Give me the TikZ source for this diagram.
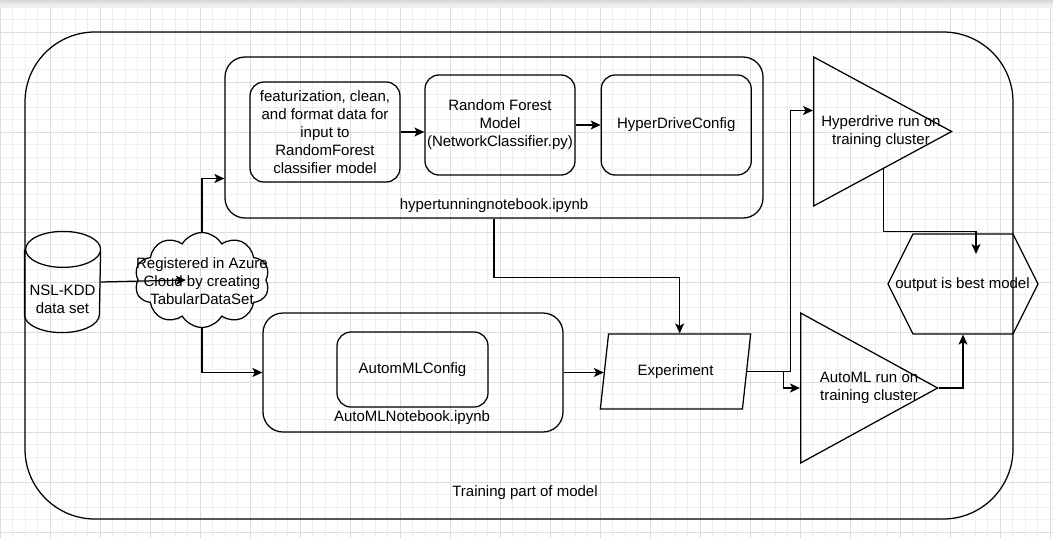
\documentclass[tikz,border=0pt]{standalone}
\usepackage{fontspec}
\setmainfont{Liberation Sans}
\usetikzlibrary{arrows.meta,positioning,shapes.geometric,shapes.symbols}

\definecolor{gridmajor}{HTML}{DDDDDD}
\definecolor{gridminor}{HTML}{EFEFEF}

\tikzset{
  every node/.style={font=\fontsize{15}{18}\selectfont},
  frame/.style={draw, rounded corners=20pt},
  block/.style={draw, rounded corners=14pt, align=center, inner sep=2pt,
    minimum width=150pt, minimum height=100pt},
  caption/.style={align=center, inner sep=0pt},
  azure/.style={draw, cloud, cloud puffs=10, cloud puff arc=120, aspect=1.4,
    minimum width=135pt, minimum height=95pt, inner sep=0pt},
  run/.style={draw, isosceles triangle, isosceles triangle stretches,
    inner sep=0pt, anchor=lower side},
  experiment/.style={draw, trapezium, trapezium stretches=true,
    trapezium left angle=71.6, trapezium right angle=108.4,
    minimum width=151pt, minimum height=75pt, inner sep=0pt},
  result/.style={draw, signal, signal to=east and west, signal pointer angle=126.87,
    minimum width=150pt, minimum height=100pt, inner sep=0pt},
}

\begin{document}
\begin{tikzpicture}[x=1pt,y=-1pt,>={Stealth[length=10pt,width=9pt,inset=2.5pt]},line width=1.25pt]
  \useasboundingbox (0,0) rectangle (1053,549);

  % grid of the canvas
  \shade[top color=gray!30, bottom color=gray!6] (0,0) rectangle (1053,7);
  \foreach \x in {0,12.5,...,1053}
    \draw[gridminor, line width=0.8pt] (\x,7) -- (\x,538);
  \foreach \y in {7,19.5,...,538}
    \draw[gridminor, line width=0.8pt] (0,\y) -- (1053,\y);
  \foreach \x in {0,50,...,1050}
    \draw[gridmajor, line width=0.8pt] (\x,7) -- (\x,538);
  \foreach \y in {32,82,...,532}
    \draw[gridmajor, line width=0.8pt] (0,\y) -- (1053,\y);

  \node[frame, rounded corners=70pt, minimum width=988pt, minimum height=487pt] (train) at (519,275.5) {};
  \node[caption] (trainlbl) at (525,493) {Training part of model};

  % data set drum
  \node[minimum width=75pt, minimum height=100pt, inner sep=0pt] (nsl) at (62.5,282) {};
  \draw ([yshift=-18pt]nsl.north west) -- ([yshift=18pt]nsl.south west)
        arc[start angle=180, end angle=360, x radius=37.5pt, y radius=18pt]
        -- ([yshift=-18pt]nsl.north east)
        arc[start angle=0, end angle=360, x radius=37.5pt, y radius=18pt];
  \node[caption] (nsltxt) at (62.5,299) {NSL-KDD\\data set};

  \node[azure] (azure) at (202,280)  {};
  \node[caption] (azuretxt) at (202,281) {Registered in Azure\\Cloud by creating\\TabularDataSet};

  \node[frame, minimum width=538pt, minimum height=161pt] (hyper) at (494,137.5) {};
  \node[caption] (hyperlbl) at (494,206) {hypertunningnotebook.ipynb};
  \node[block] (feat) at (325,132) {featurization, clean,\\and format data for\\input to\\RandomForest\\classifier model};
  \node[block] (rf)   at (500,125) {Random Forest\\Model\\(NetworkClassifier.py)};
  \node[block] (hdc)  [right=25pt of rf] {HyperDriveConfig};

  \node[frame, minimum width=300pt, minimum height=119pt] (automl) at (413,372.5) {};
  \node[caption] (automllbl) at (412,418) {AutoMLNotebook.ipynb};
  \node[block, minimum width=151pt, minimum height=75pt] (amlc) at (412.5,369.5) {AutomMLConfig};

  \node[experiment] (exp) at (675.5,371.5) {Experiment};

  \node[run, minimum height=138pt, minimum width=149pt] (hdtri) at (813,131.5) {};
  \node[caption] (hdtxt) at (881,132) {Hyperdrive run on\\training cluster};
  \node[run, minimum height=137pt, minimum width=150pt] (amtri) at (800,388) {};
  \node[caption] (amtxt) at (869,388) {AutoML run on\\training cluster};

  \node[result] (best) at (963,284) {};
  \node[caption] (besttxt) at (962.5,285) {output is best model};
  \coordinate (bestin) at ([xshift=13pt,yshift=30pt]best.center);

  \path[->] (nsl.east) edge ([xshift=-16pt]azure.center)
            (feat.east) edge (feat.east -| rf.west)
            (rf) edge (hdc)
            (automl.east) edge (automl.east -| exp.west);

  \draw[->] (azure.north) |- ([yshift=-41pt]hyper.west);
  \draw[->] (azure.south) |- (automl.west);
  \draw[->] (hyper.south) -- ++(0,59) -| (exp.top side);
  \draw[->] (exp.east) -- ++(43.5,0) |- ([yshift=21pt]hdtri.lower side);
  \draw[->] (exp.east) -- ++(36.5,0) |- (amtri.lower side);
  \draw[->] (hdtri.right side) -- ++(0,62) -| (bestin);
  \draw[->] (amtri.apex) -| (best.south);
\end{tikzpicture}
\end{document}
